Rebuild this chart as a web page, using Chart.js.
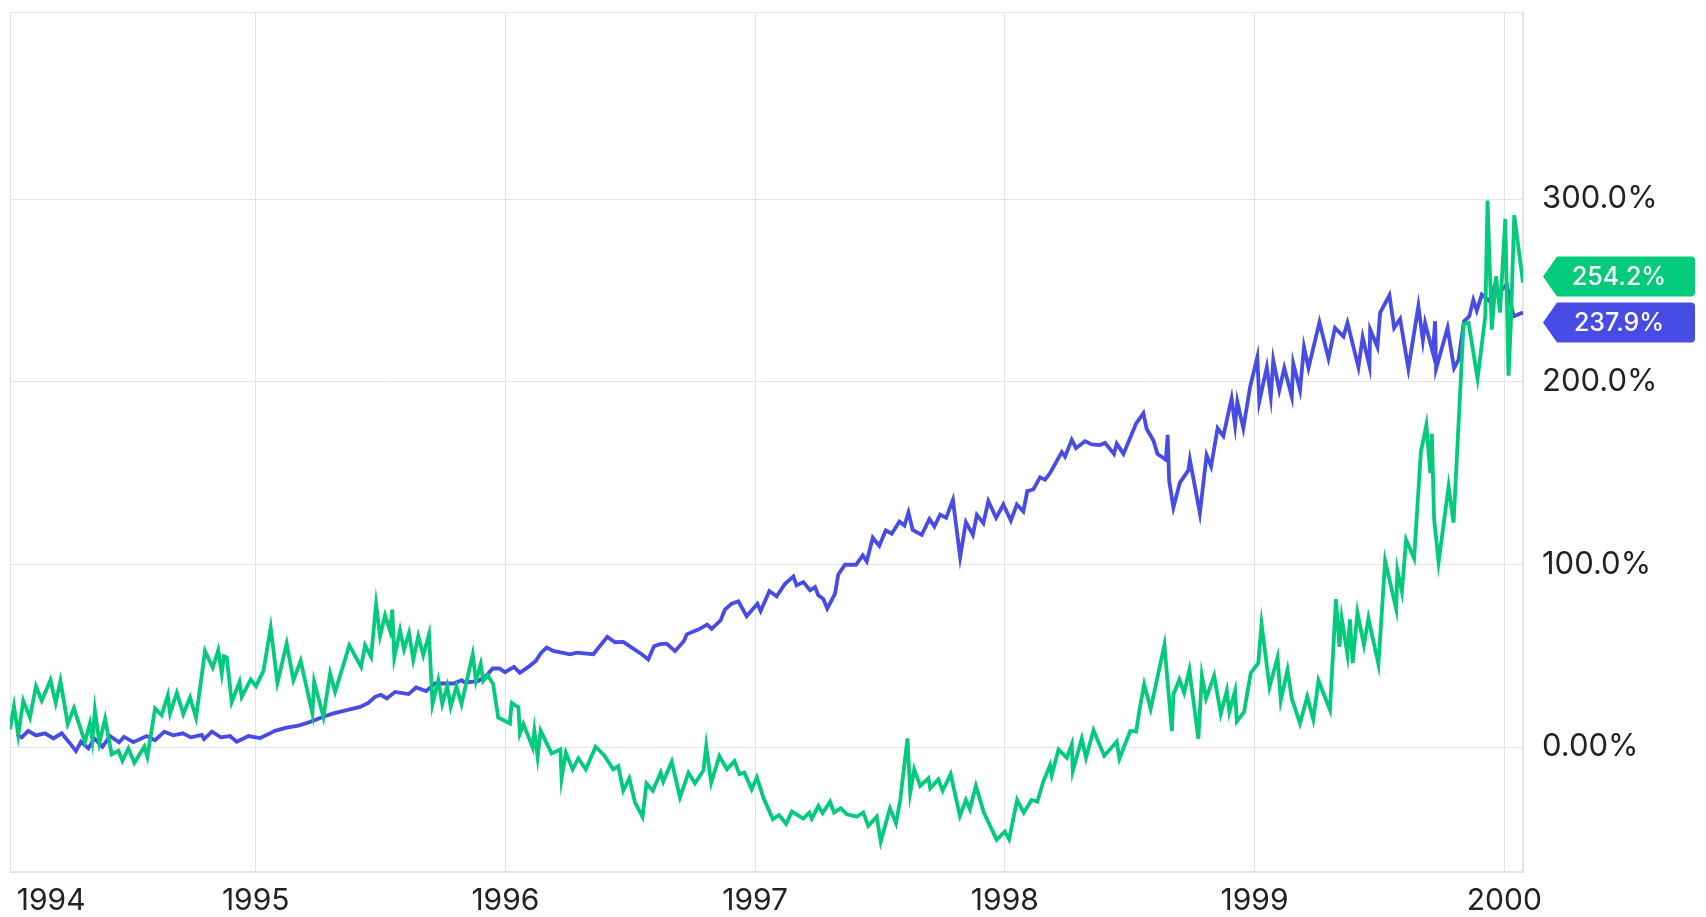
<!DOCTYPE html>
<html>
<head>
<meta charset="utf-8">
<script src="https://cdn.jsdelivr.net/npm/chart.js@4.4.1/dist/chart.umd.min.js"></script>
<style>
  body { margin: 0; background: #fff; }
  #wrap { width: 1706px; height: 917px; }
</style>
</head>
<body>
<div id="wrap"><canvas id="myChart"></canvas></div>

<script>
// values: dates as decimal years, values as % change
var greenDates = [
  1994.016,1994.032,1994.049,1994.069,1994.096,1994.120,1994.143,1994.178,1994.199,1994.218,1994.247,1994.272,1994.316,1994.336,1994.346,1994.356,1994.374,1994.397,1994.423,1994.450,1994.466,1994.490,1994.514,1994.554,1994.566,1994.597,1994.623,1994.648,1994.657,1994.684,1994.710,1994.737,1994.761,1994.797,1994.828,1994.850,1994.864,1994.873,1994.884,1994.904,1994.935,1994.944,1994.980,
  1995.001,1995.031,1995.060,1995.087,1995.124,1995.151,1995.180,1995.227,1995.234,1995.271,1995.298,1995.318,1995.375,1995.422,1995.438,1995.462,1995.482,1995.498,1995.518,1995.538,1995.547,1995.555,1995.578,1995.594,1995.614,1995.631,1995.651,1995.671,1995.694,1995.708,1995.731,1995.747,1995.767,1995.781,1995.804,1995.824,1995.869,1995.882,1995.901,1995.911,1995.929,1995.951,1995.971,
  1996.018,1996.025,1996.052,1996.058,1996.072,1996.109,1996.116,1996.129,1996.141,1996.185,1996.220,1996.225,1996.242,1996.269,1996.292,1996.322,1996.361,1996.395,1996.432,1996.452,1996.472,1996.496,1996.519,1996.549,1996.565,1996.590,1996.622,1996.632,1996.666,1996.699,1996.733,1996.759,1996.793,1996.804,1996.824,1996.857,1996.887,1996.917,1996.937,1996.957,1996.986,
  1997.007,1997.034,1997.071,1997.096,1997.124,1997.147,1997.193,1997.217,1997.227,1997.253,1997.270,1997.300,1997.316,1997.343,1997.367,1997.407,1997.433,1997.453,1997.487,1997.503,1997.540,1997.564,1997.581,1997.610,1997.621,1997.637,1997.661,1997.694,1997.701,1997.734,1997.751,1997.783,1997.820,1997.844,1997.860,1997.884,1997.916,1997.967,
  1998.000,1998.017,1998.049,1998.076,1998.107,1998.130,1998.154,1998.181,1998.188,1998.215,1998.248,1998.268,1998.272,1998.308,1998.325,1998.355,1998.398,1998.448,1998.459,1998.502,1998.526,1998.539,1998.558,1998.584,1998.639,1998.669,1998.675,1998.699,1998.718,1998.739,1998.775,1998.789,1998.806,1998.838,1998.865,1998.889,1998.899,1998.922,1998.929,1998.958,1998.985,
  1999.015,1999.028,1999.060,1999.092,1999.105,1999.132,1999.149,1999.182,1999.211,1999.235,1999.256,1999.302,1999.326,1999.340,1999.349,1999.372,1999.382,1999.393,1999.412,1999.438,1999.456,1999.496,1999.523,1999.546,1999.567,1999.572,1999.590,1999.607,1999.639,1999.666,1999.688,1999.704,1999.710,1999.719,1999.737,1999.777,1999.797,1999.837,1999.857,1999.893,1999.924,1999.933,1999.950,1999.967,1999.983,
  2000.004,2000.017,2000.026,2000.040,2000.075
];
var greenValues = [
  9.7,22.4,6.6,25.3,16.2,33.3,25.3,36.6,24.2,36.2,12.6,21.3,2.7,12.9,3.8,20.2,2.4,15.5,-4.0,-2.0,-7.5,-0.7,-8.6,0.2,-5.3,21.1,17.5,28.4,18.4,29.7,18.0,27.1,16.2,52.5,43.5,53.0,40.3,49.7,49.0,24.6,35.7,27.5,37.0,
  33.3,41.7,65.4,35.2,56.6,36.6,47.2,18.4,35.7,16.6,40.3,30.2,55.7,43.9,55.7,49.4,78.1,60.7,72.1,63.6,75.2,49.0,63.9,53.4,62.5,47.9,60.7,50.3,61.7,23.5,36.6,23.5,33.3,22.0,33.3,23.5,50.8,36.2,45.4,36.2,39.3,34.4,16.2,
  12.9,24.2,21.7,7.5,12.6,-0.2,8.9,-5.3,8.9,-3.5,-1.3,-17.1,-3.1,-12.2,-6.2,-12.2,0.2,-4.4,-12.2,-10.4,-23.9,-17.1,-30.4,-38.1,-19.9,-23.9,-14.0,-18.9,-8.0,-27.5,-14.0,-19.9,-12.8,0.6,-19.5,-4.9,-12.2,-7.7,-14.8,-14.0,-23.1,
  -16.6,-28.1,-39.5,-37.2,-42.1,-35.3,-39.2,-35.9,-39.2,-32.2,-36.2,-29.9,-35.9,-33.5,-36.8,-38.1,-35.9,-43.2,-38.1,-51.7,-33.5,-41.7,-29.0,4.7,-25.0,-12.2,-21.3,-17.1,-22.6,-17.7,-23.9,-14.8,-37.7,-29.0,-34.1,-21.3,-35.9,-50.8,
  -46.3,-50.5,-29.0,-35.9,-29.0,-29.9,-18.9,-10.0,-15.3,-1.3,-5.9,1.5,-13.2,4.6,-5.9,9.2,-4.8,2.9,-6.3,8.8,8.4,20.3,34.3,20.9,55.9,8.8,28.7,37.0,29.7,42.3,4.6,39.1,26.6,39.1,18.2,30.8,19.2,30.8,14.0,19.2,40.6,
  46.0,67.4,32.9,49.0,25.5,42.3,26.6,12.9,27.6,15.1,36.4,20.3,81.0,54.8,70.5,50.6,69.9,46.0,73.6,55.9,70.5,45.4,101.9,88.3,75.7,96.6,85.1,113.4,103.3,161.5,176.2,150.0,171.5,124.9,101.3,142.7,122.8,231.6,232.2,201.7,235.8,299.2,228.5,257.7,237.9,
  289.1,203.3,230.5,291.2,254.2
];

var blueDates = [
  1994.043,1994.063,1994.089,1994.120,1994.156,1994.190,1994.223,1994.254,1994.280,1994.300,1994.330,1994.354,1994.386,1994.417,1994.453,1994.473,1994.510,1994.563,1994.597,1994.634,1994.670,1994.708,1994.740,1994.784,1994.793,1994.825,1994.860,1994.897,1994.924,1994.971,
  1995.017,1995.051,1995.077,1995.124,1995.171,1995.218,1995.271,1995.311,1995.365,1995.418,1995.451,1995.478,1995.501,1995.525,1995.558,1995.612,1995.642,1995.682,1995.718,1995.792,1995.825,1995.838,1995.892,1995.925,1995.949,1995.976,1995.998,
  1996.034,1996.058,1996.092,1996.122,1996.141,1996.165,1996.192,1996.259,1996.285,1996.352,1996.408,1996.439,1996.472,1996.512,1996.546,1996.572,1996.595,1996.619,1996.646,1996.679,1996.715,1996.726,1996.772,1996.808,1996.826,1996.862,1996.879,1996.906,1996.933,1996.966,
  1997.009,1997.022,1997.057,1997.086,1997.120,1997.153,1997.166,1997.193,1997.220,1997.240,1997.253,1997.273,1997.289,1997.320,1997.333,1997.360,1997.404,1997.431,1997.447,1997.471,1997.497,1997.523,1997.547,1997.578,1997.598,1997.614,1997.631,1997.667,1997.698,1997.718,1997.741,1997.765,1997.792,1997.821,1997.844,1997.872,1997.888,1997.914,1997.934,1997.965,1997.994,
  1998.024,1998.048,1998.074,1998.090,1998.114,1998.141,1998.161,1998.181,1998.228,1998.241,1998.268,1998.285,1998.321,1998.348,1998.381,1998.401,1998.437,1998.448,1998.475,1998.526,1998.555,1998.568,1998.595,1998.611,1998.645,1998.652,1998.658,1998.675,1998.701,1998.735,1998.741,1998.781,1998.808,1998.826,1998.852,1998.875,1998.908,1998.922,1998.931,1998.955,1998.982,
  1999.011,1999.019,1999.049,1999.065,1999.075,1999.099,1999.119,1999.149,1999.155,1999.182,1999.198,1999.216,1999.260,1999.296,1999.322,1999.356,1999.372,1999.416,1999.433,1999.460,1999.463,1999.492,1999.503,1999.540,1999.559,1999.583,1999.616,1999.656,1999.674,1999.683,1999.714,1999.723,1999.727,1999.773,1999.799,1999.817,1999.839,1999.860,1999.876,1999.890,1999.910,1999.941,1999.959,1999.972,1999.997,
  2000.010,2000.037,2000.075
];
var blueValues = [
  6.9,5.3,8.9,6.4,7.5,4.7,7.5,2.4,-2.2,2.9,-0.7,4.7,0.2,6.0,2.6,5.6,2.7,6.0,3.8,8.4,6.4,7.5,5.3,6.6,4.4,8.4,5.3,6.0,2.9,6.0,
  4.9,7.1,8.9,10.6,11.7,13.8,16.6,18.4,20.2,22.0,24.2,27.5,28.6,26.6,30.2,29.0,32.6,30.6,34.8,34.8,36.6,35.2,36.2,39.3,43.0,43.0,41.0,
  43.9,40.6,43.9,47.2,51.2,54.5,52.6,50.8,51.7,50.8,60.3,57.4,57.6,53.9,50.8,47.9,55.2,56.3,56.6,52.5,58.1,61.7,64.3,67.0,64.7,69.4,75.2,78.5,79.8,71.6,
  78.5,74.5,85.4,82.5,89.4,93.4,88.5,90.3,85.8,87.6,83.1,81.1,75.8,84.0,94.5,99.8,99.8,104.9,101.6,114.6,110.2,118.6,116.8,123.5,121.3,128.4,118.9,116.2,124.8,120.8,127.3,125.5,135.3,104.0,123.1,116.2,127.1,122.6,134.6,125.5,132.8,
  124.0,132.8,129.0,140.1,141.0,147.7,146.4,150.0,161.5,159.0,168.2,163.6,167.4,165.7,165.3,166.5,160.5,166.1,160.5,177.2,182.8,174.1,167.8,160.5,157.3,170.9,145.8,131.2,144.8,151.5,157.3,128.0,159.8,153.6,174.5,170.3,190.8,176.2,189.1,174.5,197.1,
  213.4,189.1,208.0,191.8,211.7,195.4,207.5,191.8,210.0,195.4,219.0,207.5,232.6,212.8,229.5,224.7,232.2,208.0,224.3,208.6,228.5,219.0,237.9,247.3,229.5,234.3,207.1,241.4,222.6,232.2,215.9,233.1,207.1,229.5,207.5,212.1,233.1,235.8,244.8,238.9,247.7,244.1,251.5,247.7,251.5,
  253.1,235.8,237.9
];

var yearTicks = [1994, 1995, 1996, 1997, 1998, 1999, 2000];
var yearLabels = ['1994', '1995', '1996', '1997', '1998', '1999', '2000'];
var pctTicks = [0, 100, 200, 300];
var pctLabels = ['0.00%', '100.0%', '200.0%', '300.0%'];

var GREEN = '#03cb7b';
var BLUE = '#474ce4';
var GRID = '#e3e3e3';
var TEXT = '#222222';

function points(dates, values) {
  return dates.map(function (d, i) { return { x: d, y: values[i] }; });
}

// thin box round the plot area
var frame = {
  id: 'frame',
  beforeDatasetsDraw: function (chart) {
    var a = chart.chartArea, ctx = chart.ctx;
    ctx.save();
    ctx.strokeStyle = GRID;
    ctx.lineWidth = 1;
    ctx.strokeRect(a.left + 0.5, a.top + 0.5, a.right - a.left - 1, a.bottom - a.top - 1);
    ctx.restore();
  }
};

// last value tags on the right axis
var lastTags = {
  id: 'lastTags',
  afterDraw: function (chart) {
    var ys = chart.scales.y, a = chart.chartArea, ctx = chart.ctx;
    var h = 40, gap = 6;
    var tags = chart.data.datasets.map(function (ds) {
      var v = ds.data[ds.data.length - 1].y;
      return { v: v, color: ds.borderColor, py: ys.getPixelForValue(v) };
    });
    tags.sort(function (p, q) { return p.py - q.py; });
    for (var i = 1; i < tags.length; i++) {
      var need = h + gap - (tags[i].py - tags[i - 1].py);
      if (need > 0) { tags[i - 1].py -= need / 2; tags[i].py += need / 2; }
    }
    var x0 = a.right + 20, x1 = x0 + 14, x2 = x0 + 152, r = 4;
    tags.forEach(function (t) {
      var yc = t.py + 2, top = yc - h / 2, bot = yc + h / 2;
      ctx.save();
      ctx.fillStyle = t.color;
      ctx.beginPath();
      ctx.moveTo(x0, yc);
      ctx.lineTo(x1, top);
      ctx.lineTo(x2 - r, top);
      ctx.arcTo(x2, top, x2, top + r, r);
      ctx.lineTo(x2, bot - r);
      ctx.arcTo(x2, bot, x2 - r, bot, r);
      ctx.lineTo(x1, bot);
      ctx.closePath();
      ctx.fill();
      ctx.fillStyle = '#ffffff';
      ctx.font = '500 25px Inter';
      ctx.textAlign = 'center';
      ctx.textBaseline = 'middle';
      ctx.fillText(t.v.toFixed(1) + '%', (x0 + x2) / 2, yc + 1);
      ctx.restore();
    });
  }
};

new Chart('myChart', {
  type: 'line',
  data: {
    datasets: [{
      data: points(greenDates, greenValues),
      borderColor: GREEN,
      borderWidth: 3.8,
      pointRadius: 0,
      tension: 0,
      fill: false
    }, {
      data: points(blueDates, blueValues),
      borderColor: BLUE,
      borderWidth: 3.8,
      pointRadius: 0,
      tension: 0,
      fill: false
    }]
  },
  options: {
    responsive: true,
    maintainAspectRatio: false,
    animation: false,
    layout: { padding: { left: 10, top: 12, right: 0, bottom: 0 } },
    plugins: { legend: { display: false }, tooltip: { enabled: false } },
    scales: {
      x: {
        type: 'linear',
        position: 'bottom',
        min: greenDates[0],
        max: greenDates[greenDates.length - 1],
        afterBuildTicks: function (s) {
          // 1994 starts just before the data, so its label is pulled inside
          s.ticks = yearTicks.map(function (v) { return { value: Math.max(v, s.min + 0.165) }; });
        },
        afterFit: function (s) { s.height = 45; s.paddingLeft = 0; s.paddingRight = 0; },
        grid: {
          drawTicks: false,
          color: function (c) {
            return (c.index === 0 && yearTicks[0] < c.scale.min) ? 'rgba(0,0,0,0)' : GRID;
          }
        },
        border: { display: true, color: GRID },
        ticks: {
          autoSkip: false,
          maxRotation: 0,
          padding: 11,
          color: TEXT,
          font: { family: 'Inter', size: 30 },
          callback: function (v, i) { return yearLabels[i]; }
        }
      },
      y: {
        type: 'linear',
        position: 'right',
        min: -68.4,
        max: 402.4,
        afterBuildTicks: function (s) {
          s.ticks = pctTicks.map(function (v) { return { value: v }; });
        },
        afterFit: function (s) { s.width = 183; s.paddingTop = 0; s.paddingBottom = 0; },
        grid: { drawTicks: false, color: GRID },
        border: { display: true, color: GRID },
        ticks: {
          padding: 19,
          color: TEXT,
          font: { family: 'Inter', size: 31 },
          callback: function (v, i) { return pctLabels[i]; }
        }
      }
    }
  },
  plugins: [frame, lastTags]
});
</script>
</body>
</html>
